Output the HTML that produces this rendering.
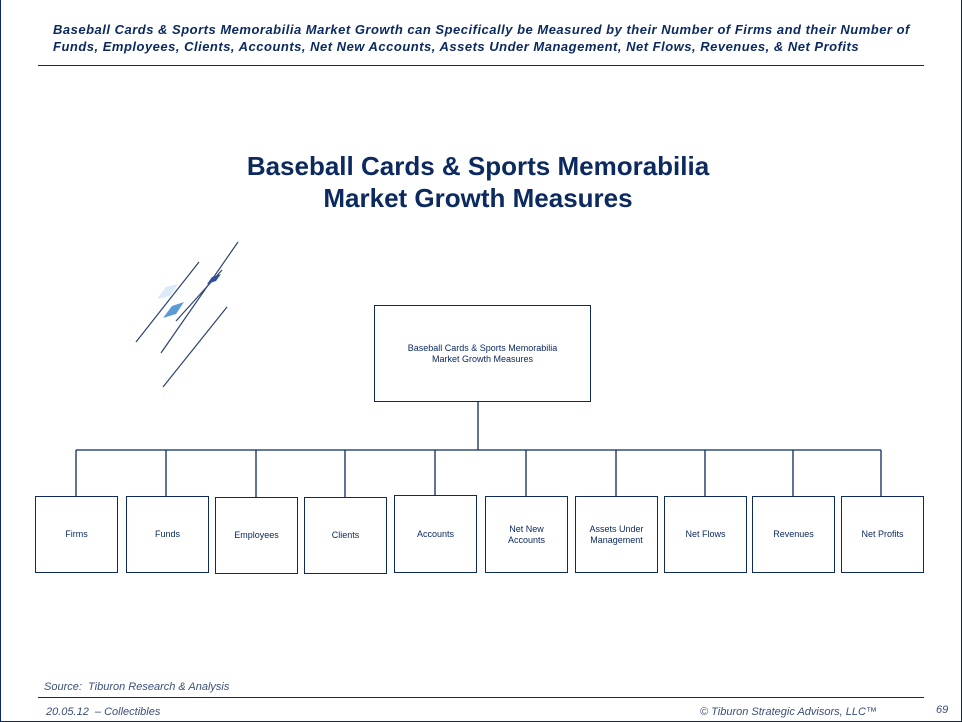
<!DOCTYPE html>
<html><head><meta charset="utf-8"><style>
body{margin:0;background:#fff;}
.pg{position:relative;width:962px;height:722px;overflow:hidden;font-family:"Liberation Sans",Arial,sans-serif;color:#0c2a60;}
.b{position:absolute;border:1.5px solid #0c2a60;box-sizing:border-box;display:flex;align-items:center;justify-content:center;text-align:center;font-size:9px;color:#0c2a60;line-height:11px;}
.t{position:absolute;}
</style></head><body><div class="pg">
<div style="position:absolute;left:0;top:0;width:962px;height:722px;border:1.5px solid #0c2a60;border-top:none;box-sizing:border-box"></div>
<div class="t" style="left:53px;top:21px;font-size:13px;letter-spacing:0.5px;font-weight:bold;font-style:italic;line-height:17px;width:870px;white-space:nowrap">Baseball Cards &amp; Sports Memorabilia Market Growth can Specifically be Measured by their Number of Firms and their Number of<br>Funds, Employees, Clients, Accounts, Net New Accounts, Assets Under Management, Net Flows, Revenues, &amp; Net Profits</div>
<div style="position:absolute;left:38px;top:65px;width:886px;height:1px;background:#0c2a60"></div>
<div class="t" style="left:0;width:956px;top:150px;text-align:center;font-size:26px;font-weight:bold;line-height:32px">Baseball Cards &amp; Sports Memorabilia<br>Market Growth Measures</div>
<svg style="position:absolute;left:0;top:0" width="962" height="722">
<g stroke="#2c4470" stroke-width="1.2">
<line x1="136" y1="342" x2="199" y2="262"/><line x1="161" y1="353" x2="238" y2="242"/><line x1="176" y1="321" x2="222" y2="270"/><line x1="163" y1="387" x2="227" y2="307"/>
</g>
<polygon points="157,299 166,287 178,284 170,296" fill="#dde8f8"/>
<polygon points="163,318 172,306 184,302 176,314" fill="#5b9bd5"/>
<polygon points="207,284 212,277 221,274 216,281" fill="#2f4f9a"/>
<g stroke="#0c2a60" stroke-width="1.3" fill="none">
<line x1="478" y1="401" x2="478" y2="450"/><line x1="76" y1="450" x2="881" y2="450"/>
<line x1="76" y1="450" x2="76" y2="496"/><line x1="166" y1="450" x2="166" y2="496"/><line x1="256" y1="450" x2="256" y2="497"/><line x1="345" y1="450" x2="345" y2="497"/><line x1="435" y1="450" x2="435" y2="495"/><line x1="526" y1="450" x2="526" y2="496"/><line x1="616" y1="450" x2="616" y2="496"/><line x1="705" y1="450" x2="705" y2="496"/><line x1="793" y1="450" x2="793" y2="496"/><line x1="881" y1="450" x2="881" y2="496"/>
</g></svg>
<div class="b" style="left:374px;top:305px;width:217px;height:97px">Baseball Cards &amp; Sports Memorabilia<br>Market Growth Measures</div>
<div class="b" style="left:35px;top:496px;width:83px;height:77px">Firms</div>
<div class="b" style="left:126px;top:496px;width:83px;height:77px">Funds</div>
<div class="b" style="left:215px;top:497px;width:83px;height:77px">Employees</div>
<div class="b" style="left:304px;top:497px;width:83px;height:77px">Clients</div>
<div class="b" style="left:394px;top:495px;width:83px;height:78px">Accounts</div>
<div class="b" style="left:485px;top:496px;width:83px;height:77px">Net New<br>Accounts</div>
<div class="b" style="left:575px;top:496px;width:83px;height:77px">Assets Under<br>Management</div>
<div class="b" style="left:664px;top:496px;width:83px;height:77px">Net Flows</div>
<div class="b" style="left:752px;top:496px;width:83px;height:77px">Revenues</div>
<div class="b" style="left:841px;top:496px;width:83px;height:77px">Net Profits</div>
<div class="t" style="left:44px;top:681px;font-size:11px;font-style:italic;color:#3a4f7a">Source:&nbsp; Tiburon Research &amp; Analysis</div>
<div style="position:absolute;left:38px;top:697px;width:886px;height:1px;background:#0c2a60"></div>
<div class="t" style="left:46px;top:706px;font-size:11px;font-style:italic;color:#3a4f7a">20.05.12&nbsp; – Collectibles</div>
<div class="t" style="left:700px;top:706px;font-size:11px;font-style:italic;color:#3a4f7a">© Tiburon Strategic Advisors, LLC™</div>
<div class="t" style="left:936px;top:704px;font-size:11px;font-style:italic;color:#3a4f7a">69</div>
</div></body></html>
